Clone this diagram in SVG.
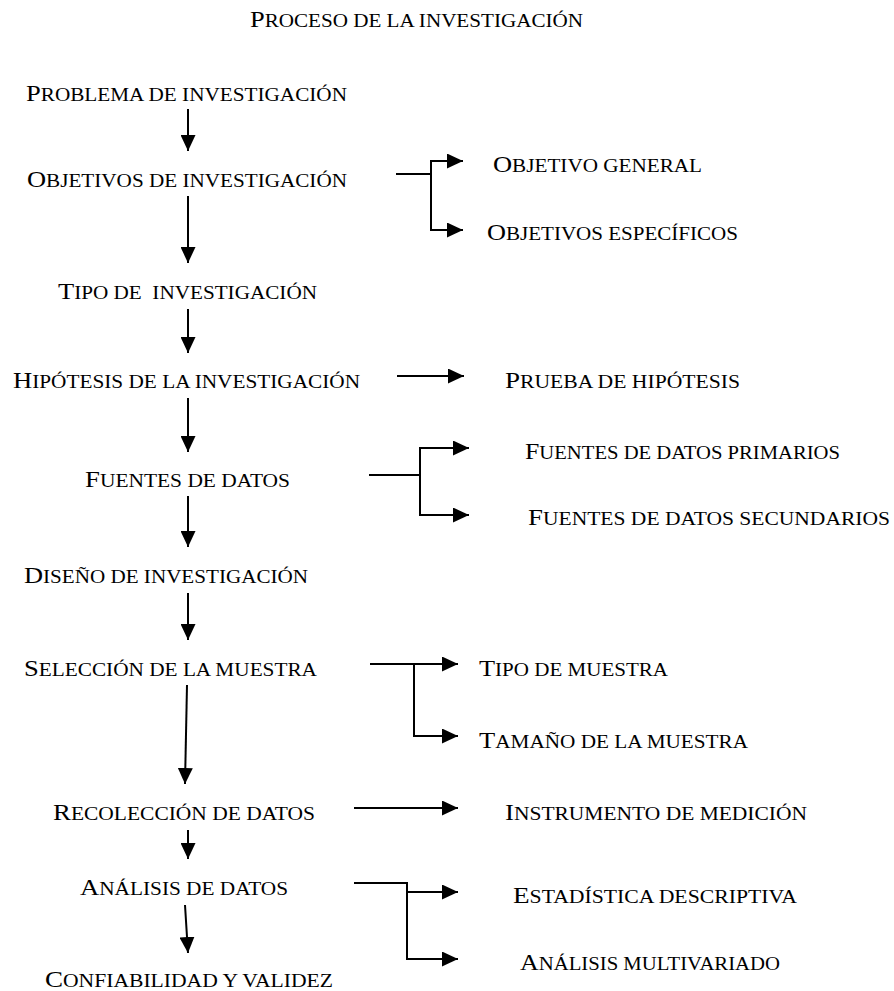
<svg xmlns="http://www.w3.org/2000/svg" width="894" height="991" viewBox="0 0 894 991">
<style>
  text { font-family: "Liberation Serif", "Times New Roman", serif; font-size: 23px; fill: #000; white-space: pre; }
  .sc { font-size: 18.4px; }
  .con { fill: none; stroke: #000; stroke-width: 2; }
  .arr { marker-end: url(#ah); }
</style>
<defs>
  <marker id="ah" markerUnits="userSpaceOnUse" markerWidth="16" markerHeight="15" viewBox="0 0 16 15" refX="16" refY="7.5" orient="auto">
    <path d="M0,0 L16,7.5 L0,15 z" fill="#000"/>
  </marker>
</defs>

<g id="title"><text x="250" y="27" textLength="333" lengthAdjust="spacingAndGlyphs">P<tspan class="sc">ROCESO DE LA INVESTIGACIÓN</tspan></text></g>

<g id="n-problema"><text x="26" y="101" textLength="321" lengthAdjust="spacingAndGlyphs">P<tspan class="sc">ROBLEMA DE INVESTIGACIÓN</tspan></text></g>
<g id="n-objetivos"><text x="27" y="187" textLength="320" lengthAdjust="spacingAndGlyphs">O<tspan class="sc">BJETIVOS DE INVESTIGACIÓN</tspan></text></g>
<g id="n-obj-general"><text x="493" y="172" textLength="209" lengthAdjust="spacingAndGlyphs">O<tspan class="sc">BJETIVO GENERAL</tspan></text></g>
<g id="n-obj-especificos"><text x="487" y="240" textLength="251" lengthAdjust="spacingAndGlyphs">O<tspan class="sc">BJETIVOS ESPECÍFICOS</tspan></text></g>
<g id="n-tipo"><text x="58" y="299" textLength="259" lengthAdjust="spacingAndGlyphs">T<tspan class="sc">IPO DE  INVESTIGACIÓN</tspan></text></g>
<g id="n-hipotesis"><text x="13" y="388" textLength="347" lengthAdjust="spacingAndGlyphs">H<tspan class="sc">IPÓTESIS DE LA INVESTIGACIÓN</tspan></text></g>
<g id="n-prueba"><text x="505" y="388" textLength="235" lengthAdjust="spacingAndGlyphs">P<tspan class="sc">RUEBA DE HIPÓTESIS</tspan></text></g>
<g id="n-fuentes"><text x="85" y="487" textLength="205" lengthAdjust="spacingAndGlyphs">F<tspan class="sc">UENTES DE DATOS</tspan></text></g>
<g id="n-fuentes-prim"><text x="525" y="459" textLength="315" lengthAdjust="spacingAndGlyphs">F<tspan class="sc">UENTES DE DATOS PRIMARIOS</tspan></text></g>
<g id="n-fuentes-sec"><text x="528" y="525" textLength="362" lengthAdjust="spacingAndGlyphs">F<tspan class="sc">UENTES DE DATOS SECUNDARIOS</tspan></text></g>
<g id="n-diseno"><text x="24" y="583" textLength="284" lengthAdjust="spacingAndGlyphs">D<tspan class="sc">ISEÑO DE INVESTIGACIÓN</tspan></text></g>
<g id="n-seleccion"><text x="24" y="676" textLength="293" lengthAdjust="spacingAndGlyphs">S<tspan class="sc">ELECCIÓN DE LA MUESTRA</tspan></text></g>
<g id="n-tipo-muestra"><text x="479" y="676" textLength="189" lengthAdjust="spacingAndGlyphs">T<tspan class="sc">IPO DE MUESTRA</tspan></text></g>
<g id="n-tamano"><text x="479" y="748" textLength="269" lengthAdjust="spacingAndGlyphs">T<tspan class="sc">AMAÑO DE LA MUESTRA</tspan></text></g>
<g id="n-recoleccion"><text x="53" y="820" textLength="262" lengthAdjust="spacingAndGlyphs">R<tspan class="sc">ECOLECCIÓN DE DATOS</tspan></text></g>
<g id="n-instrumento"><text x="505" y="820" textLength="302" lengthAdjust="spacingAndGlyphs">I<tspan class="sc">NSTRUMENTO DE MEDICIÓN</tspan></text></g>
<g id="n-analisis"><text x="80" y="895" textLength="208" lengthAdjust="spacingAndGlyphs">A<tspan class="sc">NÁLISIS DE DATOS</tspan></text></g>
<g id="n-estadistica"><text x="513" y="903" textLength="284" lengthAdjust="spacingAndGlyphs">E<tspan class="sc">STADÍSTICA DESCRIPTIVA</tspan></text></g>
<g id="n-multivariado"><text x="520" y="970" textLength="260" lengthAdjust="spacingAndGlyphs">A<tspan class="sc">NÁLISIS MULTIVARIADO</tspan></text></g>
<g id="n-confiabilidad"><text x="45" y="987" textLength="288" lengthAdjust="spacingAndGlyphs">C<tspan class="sc">ONFIABILIDAD Y VALIDEZ</tspan></text></g>

<g id="connectors">
  <path class="con arr" d="M188,109 V151"/>
  <path class="con arr" d="M188,196 V263"/>
  <path class="con arr" d="M188,309 V353"/>
  <path class="con arr" d="M188,398 V452"/>
  <path class="con arr" d="M188,496 V547"/>
  <path class="con arr" d="M188,593 V640"/>
  <path class="con arr" d="M187,685 L185,784"/>
  <path class="con arr" d="M188,830 V859"/>
  <path class="con arr" d="M185,905 L188,953"/>

  <path class="con" d="M396,174 H431"/>
  <path class="con arr" d="M431,174 V161 H463"/>
  <path class="con arr" d="M431,174 V230 H463"/>

  <path class="con arr" d="M397,376 H464"/>

  <path class="con" d="M369,475 H420"/>
  <path class="con arr" d="M420,475 V448 H469"/>
  <path class="con arr" d="M420,475 V515 H469"/>

  <path class="con arr" d="M370,664 H458"/>
  <path class="con arr" d="M414,664 V736 H458"/>

  <path class="con arr" d="M354,808 H458"/>

  <path class="con" d="M354,883 H407 V892"/>
  <path class="con arr" d="M407,892 H458"/>
  <path class="con arr" d="M407,892 V959 H458"/>
</g>
</svg>
